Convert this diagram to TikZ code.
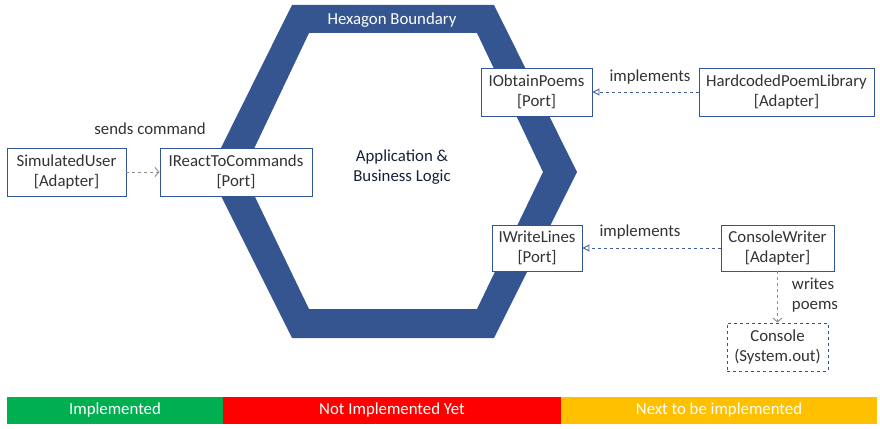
\documentclass[tikz,border=0pt]{standalone}
\usepackage{fontspec}
\setmainfont{Carlito}
\usetikzlibrary{arrows.meta}
\definecolor{hexblue}{RGB}{52,85,143}
\definecolor{boxblue}{RGB}{47,85,151}
\definecolor{txtgray}{RGB}{50,50,55}
\definecolor{lnkgray}{RGB}{140,140,145}
\definecolor{okgreen}{RGB}{0,176,80}
\definecolor{todored}{RGB}{255,0,0}
\definecolor{nextyellow}{RGB}{255,192,0}
\newcommand\diafont{\fontsize{16.8}{20}\selectfont}
\tikzset{
  box/.style={draw=boxblue, line width=0.9pt, fill=white, align=center,
    inner sep=0pt, text=txtgray, font=\diafont},
  extbox/.style={box, dashed},
  lbl/.style={text=txtgray, font=\diafont, align=center},
  usesarrow/.style={draw=lnkgray, line width=0.9pt, dashed,
    -{Straight Barb[length=4pt, width=9pt]}},
  implarrow/.style={draw=boxblue!80!gray, line width=0.9pt, dashed,
    -{Triangle[open, length=7pt, width=7pt]}},
  legend/.style={inner sep=0pt, text=white, font=\diafont}
}
\begin{document}
\begin{tikzpicture}[x=1pt, y=-1pt]
\useasboundingbox (0,0) rectangle (880,428);
\fill[white] (0,0) rectangle (880,428);

% hexagon ring
\fill[hexblue, even odd rule]
  (292,5) -- (494,5) -- (577,172) -- (494,338) -- (292,338) -- (209,172) -- cycle
  (309,33) -- (477,33) -- (543,172) -- (477,309) -- (309,309) -- (243,172) -- cycle;
\node[text=white, font=\diafont] (hextitle) at (392,20) {Hexagon Boundary};
\node[lbl, text=hexblue!40!black] (core) at (402,167) {Application \&\\Business Logic};

% ports and adapters
\node[box, minimum width=119pt, minimum height=48pt] (user) at (66.5,172) {SimulatedUser\\{}[Adapter]};
\node[box, minimum width=152pt, minimum height=48pt] (react) at (236,172) {IReactToCommands\\{}[Port]};
\node[box, minimum width=111pt, minimum height=48pt] (obtain) at (536.5,92) {IObtainPoems\\{}[Port]};
\node[box, minimum width=175pt, minimum height=48pt] (library) at (786.5,92) {HardcodedPoemLibrary\\{}[Adapter]};
\node[box, minimum width=90pt, minimum height=46pt] (write) at (537,248) {IWriteLines\\{}[Port]};
\node[box, minimum width=113pt, minimum height=46pt] (writer) at (777.5,248) {ConsoleWriter\\{}[Adapter]};
\node[extbox, minimum width=101pt, minimum height=48pt] (console) at (777.5,347) {Console\\(System.out)};

% connectors
\draw[usesarrow] (user) -- (react);
\node[lbl] (sendlbl) at (150,129) {sends command};
\draw[implarrow] (library) -- (obtain);
\node[lbl] (impl1) at (650,77) {implements};
\draw[implarrow] (writer) -- (write);
\node[lbl] (impl2) at (640,232) {implements};
\draw[usesarrow] (writer) -- (console);
\node[lbl, align=left] (writelbl) at (815,295) {writes\\poems};

% legend bar
\fill[okgreen] (7,397) rectangle (223,424);
\fill[todored] (223,397) rectangle (561,424);
\fill[nextyellow] (561,397) rectangle (877,424);
\node[legend] (lgdone) at (115,410.5) {Implemented};
\node[legend] (lgtodo) at (392,410.5) {Not Implemented Yet};
\node[legend] (lgnext) at (719,410.5) {Next to be implemented};
\end{tikzpicture}
\end{document}
